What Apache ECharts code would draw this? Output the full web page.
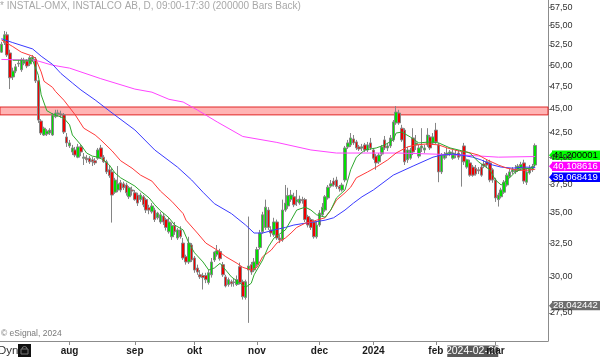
<!DOCTYPE html>
<html><head><meta charset="utf-8">
<script src="https://cdn.jsdelivr.net/npm/echarts@6/dist/echarts.min.js"></script>
<style>html,body{margin:0;padding:0;background:#fff}#c{width:600px;height:357px}</style>
</head><body><div id="c"></div>
<script>
const titleText = '* INSTAL-OMX, INSTALCO AB, D, 09:00-17:30 (200000 Bars Back)';
const firstDate = '2023-06-28';
const holidays = ['2023-12-25', '2023-12-26', '2024-01-01'];
const tradingDays = 189;
const blankSlots = 4;
const monthNames = {'08':'aug','09':'sep','10':'okt','11':'nov','12':'dec','01':'2024','02':'feb','03':'mar'};

const opens = [51.6,52.8,53.8,51.5,48.6,49.3,50.15,49.45,50.25,50.5,50.15,50.65,50.75,48.15,43.7,42.25,42.35,42.45,42.25,44.15,44.45,44.45,44.35,42.05,41.15,40.55,40.75,40.05,41.05,39.95,39.95,39.95,39.8,39.7,39.95,40.95,40.05,39.6,38.85,38.65,36.8,37.0,37.65,37.55,37.45,36.4,37.0,36.75,36.55,36.15,36.4,36.15,35.45,35.1,35.25,34.6,34.25,34.75,34.45,33.45,33.05,33.95,32.95,33.6,32.55,31.5,31.1,32.4,31.4,30.65,30.15,30.1,30.1,29.6,30.15,31.25,31.65,31.9,30.9,30.0,29.45,29.65,29.6,29.45,30.75,29.65,28.55,30.5,30.9,30.5,30.9,32.2,33.45,33.8,35.25,33.6,33.2,34.25,32.95,32.8,35.25,35.6,36.15,36.4,35.95,35.85,36.15,36.15,34.7,34.45,34.25,33.05,34.0,34.85,35.25,36.3,37.35,37.8,37.9,37.3,37.0,37.9,41.05,41.25,41.85,41.55,41.05,40.95,41.25,40.75,41.45,40.75,40.15,39.6,40.35,41.75,40.95,41.15,41.75,43.5,44.55,42.95,42.75,39.8,39.95,41.95,41.25,40.15,40.95,40.75,41.25,42.05,41.45,42.75,41.25,38.65,39.95,40.25,40.35,39.95,40.25,40.45,40.15,41.15,39.1,39.5,39.1,39.0,38.85,39.1,39.4,39.6,39.5,38.85,37.9,36.15,36.4,36.8,37.45,38.2,38.65,38.65,38.85,39.0,39.5,37.7,38.55,38.85,39.3];
const highs = [52.9,54.3,54.2,51.9,49.7,50.15,50.65,50.9,50.9,50.75,51.15,51.25,51.0,48.25,43.9,43.1,42.85,42.95,44.55,44.9,44.9,44.8,44.55,42.45,41.75,41.25,41.05,41.35,41.25,40.45,40.25,40.15,40.05,39.95,40.95,41.25,40.25,39.8,39.3,39.0,38.1,39.2,37.9,37.75,37.65,37.35,37.3,37.0,36.75,36.75,36.55,36.3,35.7,35.85,35.45,35.1,35.1,35.0,34.6,34.6,34.2,34.25,33.75,33.9,32.95,31.65,33.05,32.55,31.55,30.9,30.5,30.3,30.3,30.5,31.4,31.9,32.4,32.1,31.1,30.15,29.95,29.8,29.85,30.1,31.05,29.8,29.8,34.7,31.1,31.4,32.25,33.6,35.1,36.15,35.5,33.9,34.6,34.45,33.2,36.15,37.45,37.2,37.0,36.75,37.0,36.5,36.4,36.3,34.85,34.6,34.45,34.25,35.25,35.85,36.55,37.45,37.9,38.1,38.2,37.45,37.65,41.15,41.75,42.45,42.25,41.75,41.25,41.35,41.45,41.55,41.95,40.95,40.35,40.45,41.25,42.15,41.45,42.25,43.8,45.3,44.9,43.3,42.95,41.05,40.95,42.95,42.25,41.25,42.95,41.25,42.95,42.25,42.45,43.5,41.45,40.45,40.55,40.95,40.75,40.75,40.75,40.75,40.55,41.45,39.9,39.8,39.3,39.3,39.1,39.4,39.8,39.8,39.8,39.0,38.1,36.75,37.2,37.9,38.55,39.0,39.1,39.3,39.4,39.6,39.8,39.0,39.3,39.4,41.4];
const lows = [51.5,52.5,51.0,47.2,48.25,49.05,49.8,49.2,50.0,49.65,49.9,50.4,47.9,43.5,42.25,42.15,42.15,42.25,42.15,44.0,44.15,44.05,42.35,41.05,40.95,40.25,40.05,39.95,40.15,39.3,39.5,39.4,39.2,39.3,39.8,39.95,39.5,38.45,38.1,34.2,36.65,36.8,36.8,37.0,36.5,36.2,36.5,36.05,35.6,35.95,35.5,35.0,34.9,34.95,34.25,34.45,34.1,34.0,33.55,33.3,32.8,33.2,32.8,32.9,31.25,30.9,30.95,31.1,30.3,30.15,29.85,29.1,29.55,29.45,29.95,31.1,31.5,31.2,30.0,29.25,29.3,29.3,29.3,29.35,29.45,28.4,28.4,26.85,30.15,30.35,30.75,32.05,33.3,33.6,33.6,33.05,33.05,32.8,32.55,32.65,35.1,35.35,35.95,35.5,35.6,35.7,35.8,34.25,33.8,33.6,32.9,32.9,33.85,34.7,35.1,36.15,37.2,37.3,37.1,36.85,36.85,37.7,40.85,41.05,41.25,40.75,40.65,40.65,40.55,40.55,40.75,39.8,38.85,39.4,40.15,40.75,40.65,40.95,41.55,43.3,43.3,41.55,39.3,39.5,39.8,40.25,40.75,39.95,40.55,40.45,41.05,40.75,41.25,41.35,37.7,38.45,39.8,39.95,40.15,39.8,39.95,39.8,37.3,39.3,38.95,38.2,38.2,38.3,38.45,38.2,39.0,39.0,37.7,37.65,35.95,35.55,36.25,36.65,37.3,38.1,38.45,38.45,38.65,38.8,37.55,37.45,38.4,38.65,39.1];
const closes = [52.6,53.8,51.25,48.5,49.3,49.8,50.25,50.65,50.5,49.9,50.9,51.0,48.15,43.8,42.45,42.95,42.65,42.75,44.35,44.55,44.55,44.35,42.55,41.45,41.45,40.95,40.25,41.05,40.55,40.05,39.8,39.6,39.6,39.5,40.75,40.05,39.6,38.65,38.3,36.55,37.9,37.55,37.0,37.2,36.75,37.2,36.9,36.15,35.85,36.55,35.7,35.25,35.25,35.6,34.45,35.0,34.85,34.25,33.8,34.25,33.95,33.45,33.6,33.05,31.4,31.1,32.55,31.25,30.5,30.35,30.0,29.95,29.8,30.3,31.1,31.85,31.95,31.35,30.15,29.35,29.8,29.5,29.62,29.8,29.6,28.6,29.65,30.8,30.35,31.1,32.05,33.35,34.85,35.5,33.8,33.35,34.25,32.95,32.8,35.25,35.85,36.5,36.55,35.7,36.15,36.2,36.05,34.45,34.0,33.8,33.05,34.0,35.0,35.5,36.4,37.25,37.55,37.45,37.3,37.1,37.45,40.95,41.45,41.95,41.45,40.95,40.85,41.05,40.75,41.25,40.95,39.95,39.5,40.25,41.05,40.95,41.15,41.95,43.6,44.65,43.5,41.75,39.6,40.75,40.75,40.55,41.45,40.95,41.15,40.95,42.25,40.95,42.05,41.55,38.65,40.25,40.25,40.45,40.55,40.45,40.35,40.05,40.25,39.6,39.8,38.35,38.35,38.45,38.75,38.35,39.2,39.3,37.9,37.9,36.3,36.55,37.0,37.7,38.35,38.65,38.85,38.85,39.2,39.35,37.8,38.65,39.0,39.15,41.2];

// moving averages: [bar index, value]
const maGreen = [[4,50.6],[11,50.6],[13,48.8],[14,46.55],[16,44.8],[18,44.45],[19,44.35],[22,44.0],[24,43.3],[25,42.25],[28,41.25],[30,40.45],[32,40.15],[34,40.05],[36,39.78],[38,39.3],[40,38.55],[42,38.1],[45,37.65],[47,37.35],[49,36.9],[52,36.3],[54,35.7],[56,35.2],[59,34.6],[61,34.0],[64,33.6],[66,32.55],[68,31.8],[71,31.1],[73,30.5],[75,30.65],[77,31.0],[79,30.5],[81,30.0],[84,29.55],[86,29.25],[88,29.55],[89,30.15],[92,31.25],[94,32.25],[96,32.95],[100,33.6],[102,34.4],[104,35.25],[107,35.5],[109,35.25],[111,34.85],[114,34.65],[116,35.25],[118,36.3],[121,37.0],[123,38.85],[125,40.05],[128,40.75],[132,40.95],[135,41.25],[138,41.75],[139,42.45],[141,42.55],[144,42.05],[147,41.45],[151,41.55],[154,41.45],[158,40.95],[161,40.75],[165,40.45],[168,39.6],[172,38.85],[174,37.9],[176,37.45],[179,38.1],[181,38.65],[184,39.0],[186,38.95],[188,39.3]];
const maRed = [[0,53.15],[4,52.3],[7,51.6],[11,51.1],[12,50.85],[14,49.2],[15,48.1],[18,47.4],[19,46.95],[22,45.95],[26,44.35],[29,42.95],[33,42.25],[35,41.75],[39,40.65],[42,39.7],[46,39.0],[49,38.35],[53,37.8],[56,36.9],[60,36.0],[64,34.95],[65,34.4],[69,33.35],[72,32.55],[76,32.0],[79,31.5],[83,31.0],[85,30.7],[88,30.5],[90,30.7],[92,31.5],[95,32.0],[97,32.55],[100,32.95],[102,33.35],[104,33.8],[107,34.15],[109,34.25],[111,34.4],[114,34.6],[116,35.25],[118,36.1],[121,36.75],[123,37.25],[125,38.1],[129,38.65],[132,39.1],[136,39.78],[139,40.45],[143,41.05],[146,41.25],[150,41.35],[154,41.25],[157,40.95],[161,40.65],[164,40.55],[168,40.25],[171,39.8],[175,39.3],[178,39.0],[182,38.8],[185,38.8],[188,38.9]];
const maBlue = [[0,53.3],[4,52.8],[11,52.0],[14,51.1],[18,50.1],[21,49.0],[25,47.9],[28,47.1],[33,45.98],[39,44.55],[47,42.77],[54,40.75],[62,39.1],[67,37.9],[71,36.8],[75,35.8],[81,34.95],[86,34.0],[89,33.35],[92,33.35],[96,33.6],[100,33.8],[103,34.0],[107,34.15],[110,34.25],[114,34.4],[117,34.6],[121,35.25],[124,35.85],[127,36.4],[131,37.0],[138,38.35],[145,39.2],[152,40.05],[155,40.25],[159,40.35],[162,40.25],[166,40.05],[169,39.78],[173,39.3],[176,39.1],[180,39.0],[184,39.1],[188,39.07]];
const maMagenta = [[0,50.7],[12,50.6],[18,50.0],[24,49.65],[35,48.4],[47,47.2],[53,46.85],[59,46.05],[64,45.75],[69,44.88],[76,43.6],[85,42.1],[97,41.5],[109,40.75],[118,40.45],[127,40.45],[140,40.45],[152,40.35],[163,40.25],[175,40.05],[188,40.11]];

const yTicks = [27.5,30,32.5,35,37.5,40,42.5,45,47.5,50,52.5,55,57.5];
const yRange = [25.70, 58.52];
const zone = [44.35, 45.2];
const lastLabels = [
  {text:'41,200001', value:41.2, bg:'#00ff00', fg:'#000'},
  {text:'40,108616', value:40.108616, bg:'#ff00ff', fg:'#fff'},
  {text:'39,068419', value:39.068419, bg:'#0000ff', fg:'#fff'}
];
const cursorPrice = {text:'28,042442', value:28.042442};
const cursorDate = '2024-02-20';

// ---- build
const L = Math.log;
const dates = [];
let d = new Date(firstDate + 'T00:00:00Z');
while (dates.length < tradingDays) {
  const w = d.getUTCDay(); const s = d.toISOString().slice(0,10);
  if (w !== 0 && w !== 6 && holidays.indexOf(s) < 0) dates.push(s);
  d.setUTCDate(d.getUTCDate() + 1);
}
for (let k = 0; k < blankSlots; k++) dates.push('x' + k);
const labelAt = {};
for (let i = 1; i < tradingDays; i++) {
  if (dates[i].slice(0,7) !== dates[i-1].slice(0,7)) {
    const m = dates[i].slice(5,7);
    if (monthNames[m]) labelAt[i] = monthNames[m];
  }
}
const candleData = opens.map((o,i) => [L(o), L(closes[i]), L(lows[i]), L(highs[i])]);
const toLine = arr => arr.map(p => [p[0], L(p[1])]);
const fmt = v => Math.exp(v).toFixed(2).replace('.', ',');
const FONT = 'Liberation Sans, Arial, sans-serif';

const chart = echarts.init(document.getElementById('c'), null, {renderer:'canvas'});
const lineS = (data, color) => ({type:'line', data: toLine(data), showSymbol:false, symbol:'none', silent:true,
  lineStyle:{color, width:1}, z:3, animation:false});
chart.setOption({
  animation:false,
  backgroundColor:'#fff',
  grid:{left:-1, right:52, top:0, bottom:16, containLabel:false},
  xAxis:{type:'category', data: dates, boundaryGap:true,
    axisLine:{show:true, lineStyle:{color:'#8c8c8c', width:1}},
    axisTick:{show:true, alignWithLabel:true, length:4, interval:(i)=>labelAt[i]!==undefined, lineStyle:{color:'#8c8c8c'}},
    axisLabel:{interval:(i)=>labelAt[i]!==undefined, formatter:(v,i)=>labelAt[i]||'', color:'#1a1a1a', fontSize:10, fontWeight:'bold', fontFamily:FONT, margin:5},
    splitLine:{show:false}},
  yAxis:{type:'value', position:'right', min:L(yRange[0]), max:L(yRange[1]),
    axisLine:{show:true, lineStyle:{color:'#8c8c8c', width:1}},
    axisTick:{show:true, length:4, customValues: yTicks.map(L), lineStyle:{color:'#8c8c8c'}},
    axisLabel:{customValues: yTicks.map(L), formatter: fmt, color:'#333', fontSize:9, fontFamily:FONT, margin:2},
    splitLine:{show:false}},
  series:[
    {type:'candlestick', data:candleData, barWidth:3, z:2,
      itemStyle:{color:'#00e000', color0:'#f00000', borderColor:'#858585', borderColor0:'#858585', borderColorDoji:'#858585', borderWidth:1},
      markArea:{silent:true, itemStyle:{color:'#ffb4b4', borderColor:'#e02828', borderWidth:1},
        data:[[{yAxis:L(zone[1])},{yAxis:L(zone[0])}]]}},
    lineS(maMagenta, '#ff44ff'),
    lineS(maBlue, '#3a3aff'),
    lineS(maRed, '#ff3a3a'),
    lineS(maGreen, '#2ea82e')
  ]
});

function priceBox(text, y, bg, fg) {
  return {type:'group', z:50, children:[
    {type:'polygon', shape:{points:[[549,y],[553,y-4.5],[553,y+4.5]]}, style:{fill:bg}},
    {type:'rect', shape:{x:552, y:y-4.7, width:50, height:9.4}, style:{fill:bg}},
    {type:'text', x:553, y:y, style:{text, fill:fg, fontSize:9.5, fontFamily:FONT, verticalAlign:'middle'}}
  ]};
}
const g = [];
lastLabels.forEach(lb => {
  const py = chart.convertToPixel({yAxisIndex:0}, L(lb.value));
  g.push(priceBox(lb.text, py + 9.8, lb.bg, lb.fg));
});
const cy = chart.convertToPixel({yAxisIndex:0}, L(cursorPrice.value));
g.push(priceBox(cursorPrice.text, cy + 0.8, '#6e6e6e', '#fff'));
const cx = chart.convertToPixel({xAxisIndex:0}, cursorDate);
g.push({type:'group', z:50, children:[
  {type:'rect', shape:{x:cx-25.5, y:345.5, width:51, height:12}, style:{fill:'#5a5a5a'}},
  {type:'text', x:cx, y:351.5, style:{text:cursorDate, fill:'#fff', fontSize:10.5, fontFamily:FONT, align:'center', verticalAlign:'middle'}}
]});
g.push({type:'text', x:0, y:1, z:50, style:{text:titleText, fill:'#a8a8a8', fontSize:10, fontFamily:FONT}});
g.push({type:'text', x:1, y:329, z:50, style:{text:'\u00a9 eSignal, 2024', fill:'#7a7a7a', fontSize:8.5, fontFamily:FONT}});
g.push({type:'text', x:-2, y:345, z:50, style:{text:'Dyn', fill:'#333', fontSize:11.5, fontFamily:FONT}});
g.push({type:'group', z:50, children:[
  {type:'rect', shape:{x:18, y:344, width:13, height:13}, style:{fill:'#111'}},
  {type:'rect', shape:{x:21, y:349, width:7, height:5}, style:{fill:'none', stroke:'#777', lineWidth:1}},
  {type:'arc', shape:{cx:24.5, cy:349, r:2.5, startAngle:Math.PI, endAngle:2*Math.PI}, style:{fill:'none', stroke:'#777', lineWidth:1}}
]});
chart.setOption({graphic: g});
</script></body></html>
